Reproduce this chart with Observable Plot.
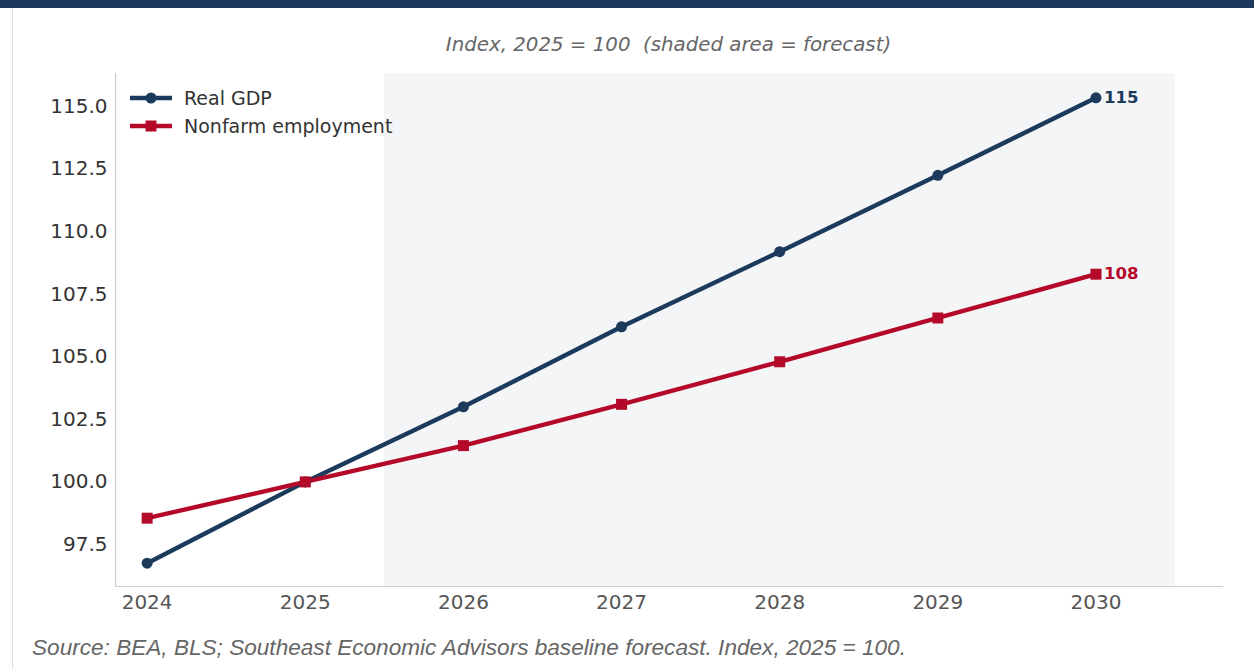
<!DOCTYPE html>
<html>
<head>
<meta charset="utf-8">
<script src="https://cdn.jsdelivr.net/npm/d3@7"></script>
<script src="https://cdn.jsdelivr.net/npm/@observablehq/plot@0.6"></script>
<style>
  html, body { margin: 0; padding: 0; background: #fff; overflow: hidden; }
  body { width: 1254px; height: 669px; position: relative; font-family: "DejaVu Sans", sans-serif; }
  #topbar { position: absolute; left: 0; top: 0; width: 1254px; height: 8px; background: #1b3a5c; }
  #cardedge { position: absolute; left: 12px; top: 8px; bottom: 0; width: 1px; background: #dcdcdc; }
  #subtitle { position: absolute; left: 115px; width: 1107px; top: 33px; text-align: center;
    font: oblique 19.8px "DejaVu Sans", sans-serif; color: #666; white-space: pre; line-height: 24px; }
  #chart { position: absolute; left: 0; top: 60px; }
  #legend { position: absolute; left: 130px; top: 84px; font: 19px "DejaVu Sans", sans-serif; color: #333; }
  .lg-row { display: flex; align-items: center; height: 28px; }
  .lg-row svg { margin-right: 12px; }
  #caption { position: absolute; left: 32px; top: 634px; font: italic 22.6px "Liberation Sans", Arial, sans-serif; color: #666; white-space: nowrap; line-height: 27px; }
</style>
</head>
<body>
<div id="topbar"></div>
<div id="cardedge"></div>
<div id="subtitle"></div>
<div id="chart"></div>
<div id="legend"></div>
<div id="caption"></div>
<script>
// ---- data ----
const years = [2024, 2025, 2026, 2027, 2028, 2029, 2030];
const realGdp = [96.75, 100.0, 103.0, 106.2, 109.2, 112.25, 115.35];
const nonfarmEmployment = [98.55, 100.0, 101.45, 103.1, 104.8, 106.55, 108.3];
const seriesNames = ["Real GDP", "Nonfarm employment"];
const seriesColors = ["#1b3a5c", "#b5092a"];
const seriesSymbols = ["circle", "square"];
const yTicks = [97.5, 100.0, 102.5, 105.0, 107.5, 110.0, 112.5, 115.0];
const forecastSpan = [2025.5, 2030.5];
const subtitleText = "Index, 2025 = 100  (shaded area = forecast)";
const captionText = "Source: BEA, BLS; Southeast Economic Advisors baseline forecast. Index, 2025 = 100.";

// ---- build table ----
const seriesValues = [realGdp, nonfarmEmployment];
const rows = [];
seriesNames.forEach((name, i) => {
  years.forEach((yr, j) => rows.push({series: name, year: yr, value: seriesValues[i][j]}));
});
const lastRows = rows.filter(d => d.year === years[years.length - 1]);
const shade = [{x1: forecastSpan[0], x2: forecastSpan[1]}];

document.getElementById("subtitle").textContent = subtitleText;
document.getElementById("caption").textContent = captionText;

const colorOf = s => seriesColors[seriesNames.indexOf(s)];

const chart = Plot.plot({
  width: 1254,
  height: 560,
  marginLeft: 115,
  marginRight: 32,
  marginTop: 13,
  marginBottom: 34,
  style: {fontFamily: "DejaVu Sans, sans-serif", background: "transparent"},
  x: {domain: [2023.8, 2030.8], ticks: years, tickFormat: d => String(d)},
  y: {domain: [95.82, 116.32], ticks: yTicks, tickFormat: d => d.toFixed(1)},
  marks: [
    Plot.rect(shade, {x1: "x1", x2: "x2", fill: "#f4f5f7"}),
    Plot.frame({anchor: "left", stroke: "#cccccc", strokeWidth: 1.2}),
    Plot.frame({anchor: "bottom", stroke: "#cccccc", strokeWidth: 1.2}),
    Plot.axisY({ticks: yTicks, tickFormat: d => d.toFixed(1), tickSize: 0, tickPadding: 8, fontSize: 20, fill: "#333", label: null}),
    Plot.axisX({ticks: years, tickFormat: d => String(d), tickSize: 0, tickPadding: 8, fontSize: 20, fill: "#555", label: null}),
    Plot.line(rows, {x: "year", y: "value", z: "series", stroke: d => colorOf(d.series), strokeWidth: 4.4, curve: "linear"}),
    Plot.dot(rows.filter(d => d.series === seriesNames[0]), {x: "year", y: "value", symbol: "circle", r: 5.5, fill: seriesColors[0]}),
    Plot.dot(rows.filter(d => d.series === seriesNames[1]), {x: "year", y: "value", symbol: "square", r: 6.2, fill: seriesColors[1]}),
    Plot.text(lastRows, {x: "year", y: "value", text: d => String(Math.round(d.value)), dx: 8, textAnchor: "start", fill: d => colorOf(d.series), fontSize: 16.5, fontWeight: "bold"})
  ]
});
document.getElementById("chart").appendChild(chart);

// ---- legend ----
const legend = document.getElementById("legend");
seriesNames.forEach((name, i) => {
  const row = document.createElement("div");
  row.className = "lg-row";
  const ns = "http://www.w3.org/2000/svg";
  const svg = document.createElementNS(ns, "svg");
  svg.setAttribute("width", 42); svg.setAttribute("height", 14);
  const ln = document.createElementNS(ns, "line");
  ln.setAttribute("x1", 0); ln.setAttribute("x2", 42); ln.setAttribute("y1", 7); ln.setAttribute("y2", 7);
  ln.setAttribute("stroke", seriesColors[i]); ln.setAttribute("stroke-width", 4.4);
  svg.appendChild(ln);
  let mk;
  if (seriesSymbols[i] === "circle") {
    mk = document.createElementNS(ns, "circle");
    mk.setAttribute("cx", 21); mk.setAttribute("cy", 7); mk.setAttribute("r", 5.5);
  } else {
    mk = document.createElementNS(ns, "rect");
    mk.setAttribute("x", 15.5); mk.setAttribute("y", 1.5); mk.setAttribute("width", 11); mk.setAttribute("height", 11);
  }
  mk.setAttribute("fill", seriesColors[i]);
  svg.appendChild(mk);
  row.appendChild(svg);
  const t = document.createElement("span");
  t.textContent = name;
  row.appendChild(t);
  legend.appendChild(row);
});
</script>
</body>
</html>
